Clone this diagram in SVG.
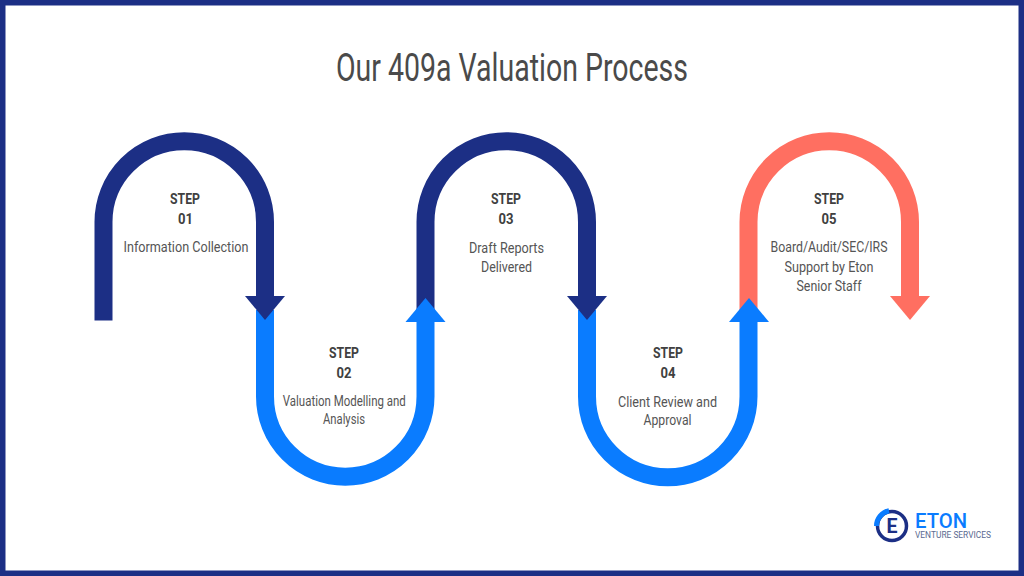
<svg xmlns="http://www.w3.org/2000/svg" width="1024" height="576" viewBox="0 0 1024 576">
<style>
.band{fill:none;stroke-width:18}
.navy{stroke:#1c2f85}.blue{stroke:#0a7cff}.coral{stroke:#ff6f61}
.t{font-family:"Roboto","Liberation Sans",sans-serif;fill:#4a4a4a;text-anchor:middle}
.h{font-size:15.500px;font-weight:700;fill:#404040}
.b{font-size:15.500px;fill:#555}
</style>
<rect width="1024" height="576" fill="#1c2f85"/>
<rect x="5.500" y="5.500" width="1013" height="565" fill="#fff"/>
<text id="title" class="t" x="512" y="81" font-size="38" textLength="352" lengthAdjust="spacingAndGlyphs">Our 409a Valuation Process</text>
<g id="connectors">
<g id="arrow5"><path class="band coral" d="M748.500 310V222A80.750 80.750 0 0 1 910 222V300"/><path fill="#ff6f61" d="M890 296H930L910 320Z"/></g>
<g id="arrow4"><path class="band blue" d="M587 310V396.500A80.750 80.750 0 0 0 748.500 396.500V318"/><path fill="#0a7cff" d="M729 322H769L749 298Z"/></g>
<g id="arrow3"><path class="band navy" d="M425.500 310V222A80.750 80.750 0 0 1 587 222V300"/><path fill="#1c2f85" d="M567 296H607L587 320Z"/></g>
<g id="arrow2"><path class="band blue" d="M265 310V396.500A80.250 80.250 0 0 0 425.500 396.500V318"/><path fill="#0a7cff" d="M405.500 322H445.500L425.500 298Z"/></g>
<g id="arrow1"><path class="band navy" d="M103.500 320.500V222A80.750 80.750 0 0 1 265 222V300"/><path fill="#1c2f85" d="M245 296H285L265 320Z"/></g>
</g>
<g id="step1" class="t"><text class="h" x="185" y="204" textLength="30" lengthAdjust="spacingAndGlyphs">STEP</text><text class="h" x="185.500" y="224" textLength="15" lengthAdjust="spacingAndGlyphs">01</text><text class="b" x="186" y="251.500" textLength="125" lengthAdjust="spacingAndGlyphs">Information Collection</text></g>
<g id="step2" class="t"><text class="h" x="344" y="358" textLength="30" lengthAdjust="spacingAndGlyphs">STEP</text><text class="h" x="344" y="378" textLength="15" lengthAdjust="spacingAndGlyphs">02</text><text class="b" x="344.300" y="405.500" textLength="123" lengthAdjust="spacingAndGlyphs">Valuation Modelling and</text><text class="b" x="344" y="423.500" textLength="42" lengthAdjust="spacingAndGlyphs">Analysis</text></g>
<g id="step3" class="t"><text class="h" x="506" y="204" textLength="30" lengthAdjust="spacingAndGlyphs">STEP</text><text class="h" x="506" y="224" textLength="15" lengthAdjust="spacingAndGlyphs">03</text><text class="b" x="506.500" y="252.500" textLength="75" lengthAdjust="spacingAndGlyphs">Draft Reports</text><text class="b" x="506.500" y="271.500" textLength="51" lengthAdjust="spacingAndGlyphs">Delivered</text></g>
<g id="step4" class="t"><text class="h" x="668" y="358" textLength="30" lengthAdjust="spacingAndGlyphs">STEP</text><text class="h" x="668" y="378" textLength="15" lengthAdjust="spacingAndGlyphs">04</text><text class="b" x="667.500" y="406.500" textLength="99" lengthAdjust="spacingAndGlyphs">Client Review and</text><text class="b" x="667.500" y="425" textLength="48" lengthAdjust="spacingAndGlyphs">Approval</text></g>
<g id="step5" class="t"><text class="h" x="829" y="204" textLength="30" lengthAdjust="spacingAndGlyphs">STEP</text><text class="h" x="829" y="224" textLength="15" lengthAdjust="spacingAndGlyphs">05</text><text class="b" x="829" y="252" textLength="117" lengthAdjust="spacingAndGlyphs">Board/Audit/SEC/IRS</text><text class="b" x="829" y="271.500" textLength="89" lengthAdjust="spacingAndGlyphs">Support by Eton</text><text class="b" x="829" y="291" textLength="65" lengthAdjust="spacingAndGlyphs">Senior Staff</text></g>
<g id="logo">
<circle cx="892" cy="526" r="14.500" fill="none" stroke="#1c2f85" stroke-width="3.500"/>
<path d="M876.500 526A15.500 15.500 0 0 1 889 510.800" fill="none" stroke="#0a7cff" stroke-width="5"/>
<text x="892" y="533" font-family="Roboto,sans-serif" font-size="19.500" font-weight="700" fill="#1c2f85" text-anchor="middle">E</text>
<text x="915" y="527.500" font-family="Roboto,sans-serif" font-size="20.500" font-weight="500" fill="#0a7cff" textLength="52" lengthAdjust="spacingAndGlyphs">ETON</text>
<text x="915" y="537.500" font-family="Roboto,sans-serif" font-size="9" fill="#5a6a90" textLength="76" lengthAdjust="spacingAndGlyphs">VENTURE SERVICES</text>
</g>
</svg>
